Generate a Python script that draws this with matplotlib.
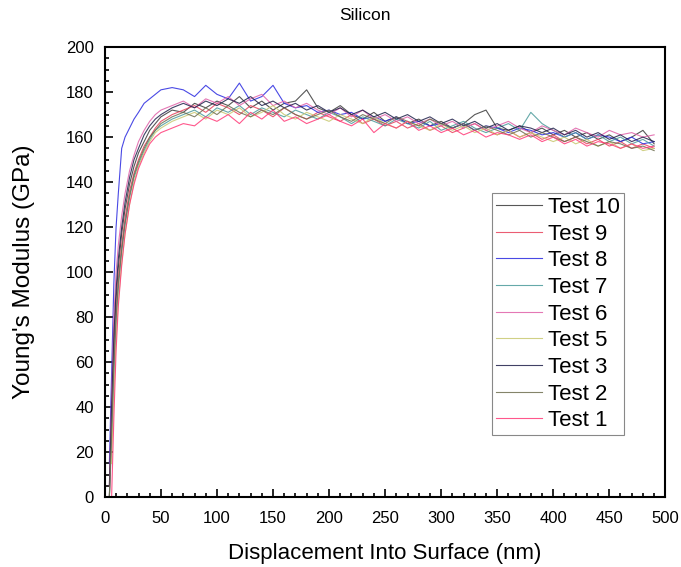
import numpy as np
import matplotlib
matplotlib.use("Agg")
import matplotlib.pyplot as plt
from matplotlib.ticker import MultipleLocator

plt.rcParams['font.family'] = ['Liberation Sans', 'DejaVu Sans']

# Displacement grid (nm): dense during the initial rise, then every 10 nm
displacement = np.array(
    [4, 6, 8, 10, 12, 15, 18, 22, 26, 30, 35, 40, 45, 50]
    + list(range(60, 500, 10)), dtype=float)

nan = np.nan

test10 = [0, 35, 65, 88, 102, 117, 128, 139, 147, 153, 158, 163, 166, 169,
          172, 171, 175, 173, 176, 174, 178, 173, 176, 172, 175, 176, 181, 173,
          171, 174, 170, 168, 171, 167, 169, 166, 168, 165, 167, 164, 166, 170,
          172, 164, 163, 165, 162, 164, 161, 163, 160, 162, 159, 161, 158, 160,
          163, 157]
test9 = [0, 30, 60, 82, 97, 112, 124, 136, 144, 150, 156, 160, 164, 167,
         170, 172, 174, 171, 175, 173, 170, 174, 172, 169, 173, 170, 168, 171,
         169, 167, 170, 166, 168, 165, 167, 164, 166, 163, 165, 162, 164, 166,
         163, 161, 163, 160, 162, 159, 161, 158, 160, 157, 159, 156, 158, 155,
         157, 155]
test8 = [15, 55, 95, 120, 135, 155, 160, 164, 168, 171, 175, 177, 179, 181,
         182, 181, 178, 183, 179, 177, 184, 176, 178, 183, 175, 173, 174, 171,
         172, 170, 171, 168, 169, 167, 169, 166, 167, 165, 166, 164, 166, 163,
         165, 164, 162, 164, 163, 161, 162, 160, 162, 159, 161, 160, 158, 160,
         157, 158]
test7 = [0, 25, 55, 78, 93, 109, 121, 133, 142, 148, 154, 159, 163, 165,
         168, 170, 172, 169, 173, 171, 174, 170, 173, 171, 169, 172, 170, 168,
         171, 169, 166, 169, 167, 165, 168, 166, 164, 167, 163, 165, 167, 164,
         162, 164, 166, 163, 171, 166, 163, 160, 162, 159, 161, 158, 160, 157,
         159, 156]
test6 = [5, 45, 80, 100, 112, 125, 135, 145, 152, 158, 163, 167, 170, 172,
         174, 176, 173, 177, 175, 178, 174, 177, 179, 174, 176, 173, 175, 172,
         170, 173, 169, 172, 168, 170, 167, 169, 166, 168, 165, 167, 164, 166,
         163, 165, 167, 164, 162, 165, 163, 161, 164, 162, 160, 163, 161, 162,
         160, 161]
test5 = [nan, 15, 45, 70, 87, 104, 117, 130, 140, 147, 153, 158, 162, 164,
         167, 169, 171, 168, 172, 170, 173, 169, 171, 174, 170, 168, 171, 169,
         167, 170, 168, 166, 169, 166, 164, 167, 165, 163, 166, 163, 165, 162,
         164, 161, 163, 160, 162, 160, 158, 160, 157, 159, 156, 158, 155, 157,
         154, 155]
test3 = [5, 40, 72, 92, 106, 120, 131, 142, 150, 155, 161, 165, 168, 170,
         173, 175, 173, 176, 174, 177, 175, 178, 174, 176, 173, 175, 172, 174,
         171, 173, 170, 172, 169, 171, 168, 170, 167, 169, 166, 168, 165, 167,
         164, 166, 163, 165, 164, 162, 164, 161, 163, 160, 162, 159, 161, 158,
         160, 158]
test2 = [0, 28, 58, 80, 95, 110, 122, 134, 143, 149, 155, 160, 163, 166,
         169, 171, 169, 173, 170, 174, 171, 169, 172, 170, 173, 170, 168, 170,
         172, 169, 167, 170, 168, 166, 169, 167, 165, 168, 166, 164, 166, 163,
         165, 163, 161, 163, 160, 162, 160, 158, 160, 158, 156, 158, 157, 155,
         156, 154]
test1 = [nan, 0, 35, 65, 85, 103, 117, 130, 139, 146, 152, 157, 160, 162,
         164, 166, 165, 169, 167, 170, 166, 171, 168, 172, 167, 169, 166, 168,
         170, 167, 165, 168, 162, 166, 164, 167, 163, 165, 162, 164, 161, 163,
         160, 162, 161, 159, 161, 158, 160, 157, 159, 156, 158, 157, 155, 157,
         155, 156]

labels = ["Test 10", "Test 9", "Test 8", "Test 7", "Test 6",
          "Test 5", "Test 3", "Test 2", "Test 1"]
series = [test10, test9, test8, test7, test6, test5, test3, test2, test1]
colors = ["#3a3a3a", "#e8405a", "#2a2ae0", "#4a9a9a", "#e060a8",
          "#c8c870", "#20204a", "#6e6e50", "#ff3a78"]

fig = plt.figure(figsize=(6.81, 5.67), dpi=100)
ax = fig.add_axes([0.154, 0.123, 0.823, 0.794])

for lab, ys, col in zip(labels, series, colors):
    ax.plot(displacement, np.asarray(ys, dtype=float), color=col,
            lw=0.8, alpha=0.85, label=lab)

ax.set_xlim(0, 500)
ax.set_ylim(0, 200)
ax.xaxis.set_major_locator(MultipleLocator(50))
ax.xaxis.set_minor_locator(MultipleLocator(10))
ax.yaxis.set_major_locator(MultipleLocator(20))
ax.yaxis.set_minor_locator(MultipleLocator(5))
ax.tick_params(which='both', direction='in', top=False, right=False,
               width=1.2, labelsize=12, colors='black')
ax.tick_params(which='major', length=6)
ax.tick_params(axis='x', which='major', pad=10)
ax.tick_params(axis='y', which='major', pad=8)
ax.tick_params(which='minor', length=3)
for sp in ax.spines.values():
    sp.set_linewidth(1.5)

ax.set_xlabel("Displacement Into Surface (nm)", fontsize=16, labelpad=12)
ax.set_ylabel("Young's Modulus (GPa)", fontsize=17.5, labelpad=22)
fig.text(365 / 681, 1 - 16 / 567, "Silicon", fontsize=12.5,
         ha='center', va='center')

leg = ax.legend(loc='upper left', bbox_to_anchor=(0.691, 0.676),
                fontsize=16, frameon=True, fancybox=False,
                edgecolor='#888888', framealpha=1, borderaxespad=0,
                handlelength=2.05, handletextpad=0.28, labelspacing=0.255,
                borderpad=0.18)
leg.get_frame().set_linewidth(0.8)

fig.savefig("out.png", dpi=100)
